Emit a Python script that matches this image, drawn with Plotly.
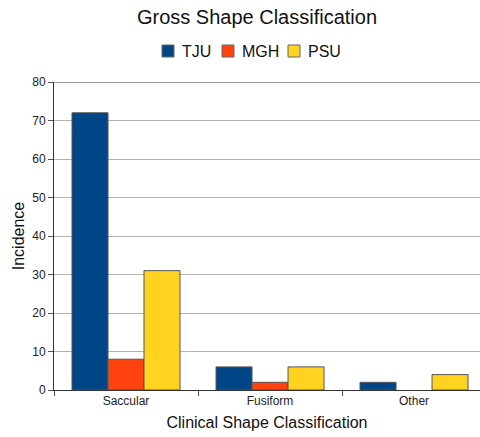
import plotly.graph_objects as go

categories = ["Saccular", "Fusiform", "Other"]
series_names = ["TJU", "MGH", "PSU"]
tju = [72, 6, 2]
mgh = [8, 2, 0]
psu = [31, 6, 4]
y_ticks = [0, 10, 20, 30, 40, 50, 60, 70, 80]
colors = ["#004586", "#ff420e", "#ffd320"]

FONT = "Liberation Sans, Arial, sans-serif"
W, H = 480, 437
ML, MR, MT, MB = 54, 0, 82, 47
PW, PH = W - ML - MR, H - MT - MB

def px_x(px):
    return (px - ML) / PW

def px_y(py):
    return (H - MB - py) / PH

fig = go.Figure()
for name, vals, col in zip(series_names, [tju, mgh, psu], colors):
    fig.add_trace(go.Bar(name=name, x=categories, y=vals, showlegend=False,
                         marker=dict(color=col,
                                     line=dict(color="#555555",
                                               width=[1 if v > 0 else 0 for v in vals]))))

fig.update_layout(
    width=W, height=H,
    margin=dict(l=ML, r=MR, t=MT, b=MB),
    paper_bgcolor="white", plot_bgcolor="white",
    font=dict(family=FONT, color="#222222"),
    barmode="group", bargap=0.25, bargroupgap=0,
    title=dict(text="Gross Shape Classification", x=257 / W, xanchor="center",
               y=1 - 17 / H, yanchor="middle", font=dict(size=20, color="#111111")),
    showlegend=False,
)

# custom legend (compact, like the reference)
legend_sq_left = [162, 222, 288]
for name, col, lx in zip(series_names, colors, legend_sq_left):
    fig.add_shape(type="rect", xref="paper", yref="paper",
                  x0=px_x(lx), x1=px_x(lx + 12), y0=px_y(57), y1=px_y(45),
                  fillcolor=col, line=dict(color="#666666", width=1))
    fig.add_annotation(text=name, xref="paper", yref="paper", x=px_x(lx + 18), y=px_y(51),
                       xanchor="left", yanchor="middle", showarrow=False,
                       font=dict(size=16, color="#111111"))

fig.update_xaxes(type="category", range=[-0.5, 2.458], tickson="boundaries",
                 ticks="outside", ticklen=5, tickcolor="#555555",
                 showline=True, linecolor="#333333", linewidth=1, mirror=False,
                 showgrid=False, tickfont=dict(size=12, color="#222222"),
                 title=dict(text="Clinical Shape Classification", font=dict(size=16, color="#111111"), standoff=9))
fig.update_yaxes(range=[0, 80], tickvals=y_ticks, ticks="outside", ticklen=5, tickcolor="#555555",
                 showline=True, linecolor="#333333", linewidth=1,
                 showgrid=True, gridcolor="#b3b3b3", gridwidth=1, zeroline=False,
                 tickfont=dict(size=12, color="#222222"),
                 title=dict(text="Incidence", font=dict(size=16, color="#111111"), standoff=3))
fig.add_shape(type="line", xref="paper", yref="y", x0=0, x1=1, y0=80, y1=80,
              line=dict(color="#333333", width=1))
fig.write_html("out.html", config={"displayModeBar": False},
               post_script="document.body.style.margin='0';")
